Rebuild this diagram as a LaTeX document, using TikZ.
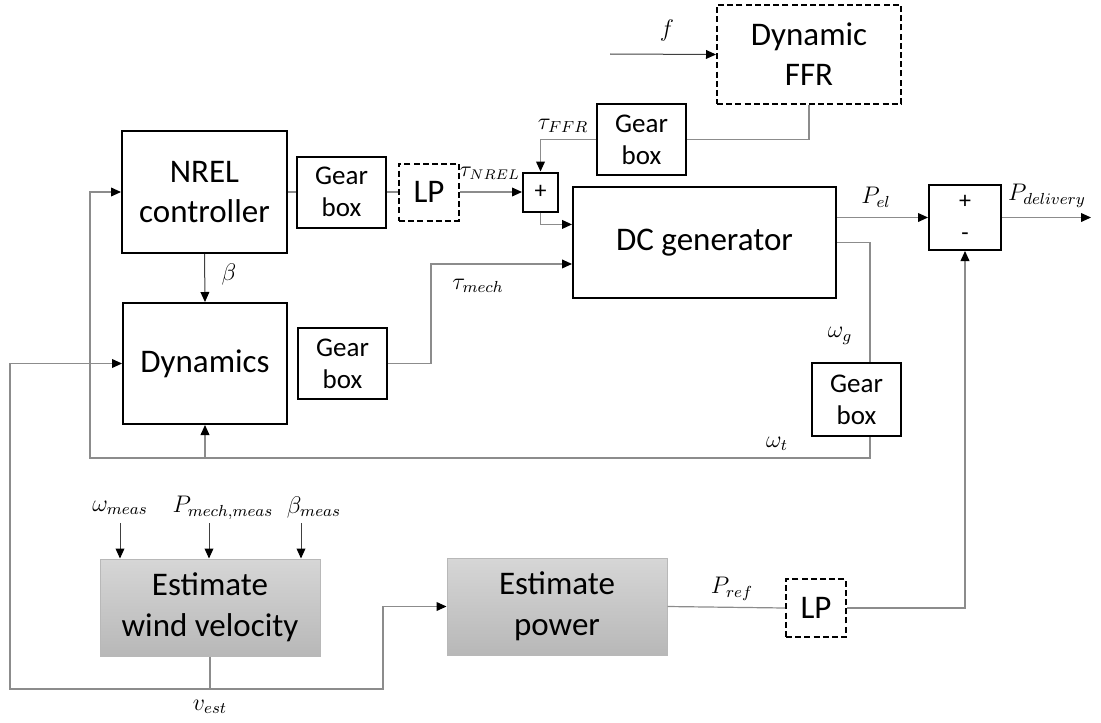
\documentclass[tikz,border=0pt]{standalone}
\usepackage{fontspec}
\setmainfont{Carlito}
\usetikzlibrary{positioning, arrows.meta, calc}
\tikzset{
  wire/.style={draw=black!45, line width=0.6pt},
  arr/.style={-{Triangle[length=5pt,width=4.4pt,color=black]}, draw=black!45, line width=0.6pt},
  inarr/.style={-{Triangle[length=5pt,width=4.4pt,color=black]}, draw=black!75, line width=0.5pt},
  blk/.style={draw=black, line width=1pt, align=center, inner sep=0pt,
    font=\fontsize{16.5}{20}\selectfont},
  gbox/.style={blk, minimum width=44.5pt, minimum height=35.5pt,
    font=\fontsize{13.5}{16}\selectfont},
  lpbox/.style={blk, dash pattern=on 3pt off 1.6pt, minimum width=30pt, minimum height=28.5pt},
  est/.style={draw=black!28, line width=0.5pt, top color=black!16, bottom color=black!28,
    align=center, minimum width=110pt, minimum height=48.5pt,
    font=\fontsize{16.5}{20.5}\selectfont},
  lab/.style={font=\fontsize{11.5}{13}\selectfont, inner sep=1pt}
}
\begin{document}
\begin{tikzpicture}[x=0.5pt, y=-0.5pt]
\useasboundingbox (0,0) rectangle (1101,722);
% turbine blocks
\node[blk, minimum width=82.5pt, minimum height=61pt] (nrel) at (204.5,192) {NREL\\controller};
\node[blk, minimum width=82pt, minimum height=60.5pt] (dyn) at (205,363.5) {Dynamics};
\node[gbox] (gb1) at (341.5,192) {Gear\\box};
\node[lpbox] (lp1) at (429,192) {LP};
\node[gbox] (gb2) at (342.5,363.5) {Gear\\box};
\node[blk, minimum width=17.5pt, minimum height=19.5pt, font=\fontsize{12}{14}\selectfont] (sum1) at (540.5,192) {+};
\node[blk, minimum width=131.5pt, minimum height=55.5pt] (dcg) at (704.5,242.5) {DC generator};
\node[gbox] (gbf) at (641.5,139.5) {Gear\\box};
\node[blk, dash pattern=on 3pt off 1.6pt, minimum width=92pt, minimum height=49.5pt] (ffr) at (809,54.5) {Dynamic\\FFR};
\node[blk, minimum width=36pt, minimum height=32.5pt, font=\fontsize{12}{16}\selectfont] (sum2) at (965,217.5) {+\\-};
\node[gbox, minimum height=36.5pt] (gb3) at (856.5,399.5) {Gear\\box};
% estimators
\node[est] (wind) at (210,607.5) {Estimate\\wind velocity};
\node[est] (pow) at (557,606.5) {Estimate\\power};
\node[lpbox, minimum height=29pt] (lp2) at (816,608) {LP};
\coordinate (fin) at (610,54);
\coordinate (pout) at (1091,217.5);
\coordinate (fbl) at (90,458);
\coordinate (vl) at (10,689);
\coordinate (vr) at (383,689);

% top path
\draw[wire] (nrel.east) -- (gb1.west);
\draw[wire] (gb1.east) -- (lp1.west);
\draw[arr] (lp1.east) -- (sum1.west);
\draw[arr] (sum1.south) |- ($(dcg.north west)!0.34!(dcg.south west)$);
\draw[arr] (gb2.east) -- ++(43,0) |- ($(dcg.north west)!0.69!(dcg.south west)$);
\draw[arr] (gbf.west) -| (sum1.north);
\draw[wire] (ffr.south) |- (gbf.east);
\draw[inarr] (fin) -- (ffr.west);
\draw[inarr] (nrel.south) -- (dyn.north);
% outputs and feedback
\draw[arr] (dcg.east |- sum2.west) -- (sum2.west);
\draw[arr] (sum2.east) -- (pout);
\draw[wire] (dcg.east) -| ($(gb3.north)+(13.5,0)$);
\draw[arr] ($(gb3.south)+(13.5,0)$) |- (fbl) |- (nrel.west);
\draw[arr] (dyn.south |- fbl) -- (dyn.south);
% estimator paths
\draw[wire] (wind.south) -- (wind.south |- vl);
\draw[arr] (wind.south |- vl) -- (vl) |- (dyn.west);
\draw[arr] (wind.south |- vl) -- (vr) |- (pow.west);
\draw[wire] (pow.east) -- (lp2.west);
\draw[arr] (lp2.east) -| (sum2.south);
\node[lab] (wm) at (120,508) {$\omega_{meas}$};
\node[lab] (pm) at (223,508) {$P_{mech,meas}$};
\node[lab] (bm) at (314,507) {$\beta_{meas}$};
\draw[inarr] (120,523) -- (wm |- wind.north);
\draw[inarr] (209,523) -- (209,0 |- wind.north);
\draw[inarr] (301,523) -- (301,0 |- wind.north);

% labels
\node[lab] at (667,31) {$f$};
\node[lab] at (229,274) {$\beta$};
\node[lab, font=\fontsize{10.5}{12}\selectfont] at (490,173) {$\tau_{NREL}$};
\node[lab] at (563,126) {$\tau_{FFR}$};
\node[lab] at (478,286) {$\tau_{mech}$};
\node[lab] at (876,197) {$P_{el}$};
\node[lab] at (1047,196) {$P_{delivery}$};
\node[lab] at (840,336) {$\omega_g$};
\node[lab] at (777,444) {$\omega_t$};
\node[lab] at (210,707) {$v_{est}$};
\node[lab] at (732,589) {$P_{ref}$};
\end{tikzpicture}
\end{document}
